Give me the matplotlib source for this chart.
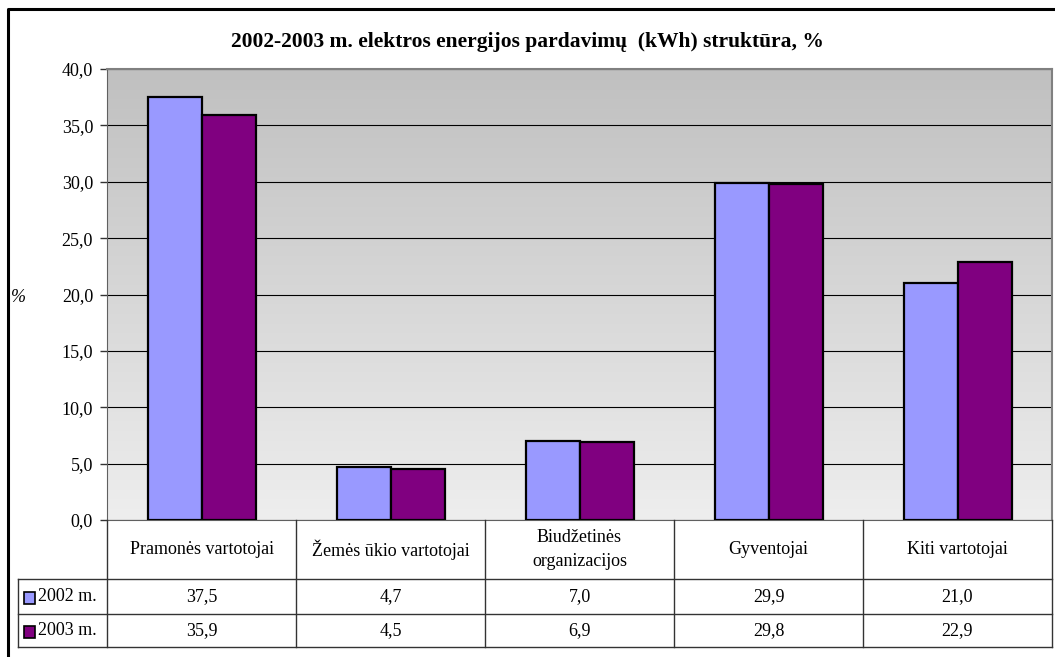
import numpy as np
import matplotlib
matplotlib.use('Agg')
import matplotlib.pyplot as plt
from matplotlib.patches import Rectangle
from matplotlib.lines import Line2D

plt.rcParams['font.family'] = ['Liberation Serif', 'DejaVu Serif']

title = '2002-2003 m. elektros energijos pardavimų  (kWh) struktūra, %'
categories = ['Pramonės vartotojai', 'Žemės ūkio vartotojai', 'Biudžetinės\norganizacijos',
              'Gyventojai', 'Kiti vartotojai']
series_names = ['2002 m.', '2003 m.']
values_2002 = [37.5, 4.7, 7.0, 29.9, 21.0]
values_2003 = [35.9, 4.5, 6.9, 29.8, 22.9]
colors = ['#9999FF', '#800080']
yticks = [0, 5, 10, 15, 20, 25, 30, 35, 40]

W, H = 1055, 657
fig = plt.figure(figsize=(W / 100, H / 100), dpi=100)
fs = 13


def fx(px):
	return px / W


def fy(py):
	return 1 - py / H


# plot area in pixels
left, right, top, bottom = 107, 1052, 69, 520
ax = fig.add_axes([fx(left), fy(bottom), fx(right) - fx(left), fy(top) - fy(bottom)])

# gradient background
grad = np.linspace(0, 1, 256).reshape(-1, 1)
ax.imshow(grad, extent=[0, 1, 0, 1], transform=ax.transAxes, aspect='auto',
          cmap=matplotlib.colors.LinearSegmentedColormap.from_list('bg', ['#eeeeee', '#c0c0c0']),
          origin='lower', zorder=0)

n = len(categories)
x = np.arange(n)
bw = 1 / 3.5
ax.bar(x - bw / 2, values_2002, bw, color=colors[0], edgecolor='black', linewidth=1.6, zorder=3)
ax.bar(x + bw / 2, values_2003, bw, color=colors[1], edgecolor='black', linewidth=1.6, zorder=3)

ax.set_xlim(-0.5, n - 0.5)
ax.set_ylim(0, 40)
ax.set_yticks(yticks)
ax.set_yticklabels([f'{t:.1f}'.replace('.', ',') for t in yticks], fontsize=fs)
ax.set_xticks([])
ax.yaxis.grid(True, color='black', linewidth=0.8, zorder=1)
ax.set_axisbelow(True)
ax.tick_params(axis='y', length=5, width=1, color='#333333', pad=5)
for s in ['top', 'right']:
	ax.spines[s].set_color('#808080')
	ax.spines[s].set_linewidth(1.5)
ax.spines['left'].set_color('#606060')
ax.spines['bottom'].set_color('#606060')

fig.text(fx(11), fy(297), '%', fontsize=fs, style='italic', va='center', ha='left')
fig.text(fx(527), fy(42), title, fontsize=15.5, fontweight='bold', ha='center', va='center')

# table
lc = '#333333'
col_edges = [left + (right - left) * i / n for i in range(n + 1)]
row_cat_bottom, row1_bottom, row2_bottom = 579, 614, 647
tab_left = 18


def hline(x0, x1, y):
	fig.add_artist(Line2D([fx(x0), fx(x1)], [fy(y), fy(y)], color=lc, linewidth=1))


def vline(xp, y0, y1):
	fig.add_artist(Line2D([fx(xp), fx(xp)], [fy(y0), fy(y1)], color=lc, linewidth=1))


for xe in col_edges:
	vline(xe, bottom, row2_bottom)
vline(tab_left, row_cat_bottom, row2_bottom)
hline(tab_left, right, row_cat_bottom)
hline(tab_left, right, row1_bottom)
hline(tab_left, right, row2_bottom)

for i, cat in enumerate(categories):
	cx = (col_edges[i] + col_edges[i + 1]) / 2
	fig.text(fx(cx), fy((bottom + row_cat_bottom) / 2), cat, fontsize=fs, ha='center', va='center',
	         linespacing=1.6)
	fig.text(fx(cx), fy((row_cat_bottom + row1_bottom) / 2), f'{values_2002[i]:.1f}'.replace('.', ','),
	         fontsize=fs, ha='center', va='center')
	fig.text(fx(cx), fy((row1_bottom + row2_bottom) / 2), f'{values_2003[i]:.1f}'.replace('.', ','),
	         fontsize=fs, ha='center', va='center')

for k, (name, c) in enumerate(zip(series_names, colors)):
	yc = [(row_cat_bottom + row1_bottom) / 2, (row1_bottom + row2_bottom) / 2][k]
	fig.add_artist(Rectangle((fx(24), fy(yc + 7)), fx(11), fy(0) - fy(12), facecolor=c,
	                         edgecolor='black', linewidth=1.2, transform=fig.transFigure))
	fig.text(fx(38), fy(yc), name, fontsize=fs, ha='left', va='center')

# outer border
fig.add_artist(Line2D([fx(8), fx(8), fx(W + 5)], [fy(H + 5), fy(9), fy(9)], color='black', linewidth=2.2))

fig.savefig('out.png', dpi=100)
